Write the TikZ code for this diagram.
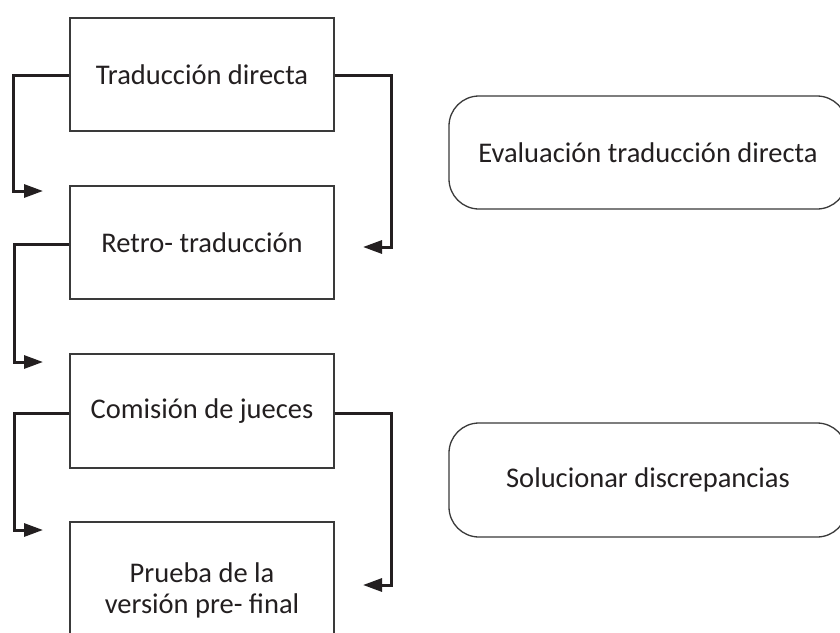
\documentclass[tikz,border=0pt]{standalone}
\usepackage{fontspec}
\setmainfont{Carlito}
\usetikzlibrary{arrows.meta}
\definecolor{ink}{HTML}{231F20}
\definecolor{boxline}{HTML}{3A3A3A}
\begin{document}
\begin{tikzpicture}[x=1pt,y=-1pt,
  every node/.style={font=\fontsize{28.5}{31}\selectfont, text=ink},
  stepbox/.style={draw=boxline, line width=1.3pt, minimum width=264pt, inner sep=0pt, align=center},
  roundbox/.style={draw=boxline, line width=1.3pt, rounded corners=30pt, minimum width=398pt, minimum height=113pt, inner sep=0pt, align=center},
  conn/.style={draw=ink, line width=3pt, -{Triangle[length=19pt,width=13pt]}}
]
\useasboundingbox (0,0) rectangle (840,632);
\clip (0,0) rectangle (840,632);
\fill[white] (0,0) rectangle (840,632);

\node[stepbox, minimum height=113pt] (b1) at (202,74.5) {Traducción directa};
\node[stepbox, minimum height=113pt] (b2) at (202,242.5) {Retro- traducción};
\node[stepbox, minimum height=114pt] (b3) at (202,411) {Comisión de jueces};
\node[stepbox, minimum height=136pt] (b4) at (202,590) {Prueba de la\\versión pre- final};

\node[roundbox] (e1) at (648,152.5) {Evaluación traducción directa};
\node[roundbox, minimum height=114pt] (e2) at (648,480) {Solucionar discrepancias};

\coordinate (l1) at (13,75);
\coordinate (t1) at (43,191);
\coordinate (l2) at (14,244);
\coordinate (t2) at (43,362);
\coordinate (l3) at (14,413);
\coordinate (t3) at (43,530);
\coordinate (r1) at (391,75);
\coordinate (u1) at (363,247);
\coordinate (r3) at (391,413);
\coordinate (u3) at (363,585);

\draw[conn] (b1.west |- l1) -- (l1) |- (t1);
\draw[conn] (b2.west |- l2) -- (l2) |- (t2);
\draw[conn] (b3.west |- l3) -- (l3) |- (t3);
\draw[conn] (b1.east |- r1) -- (r1) |- (u1);
\draw[conn] (b3.east |- r3) -- (r3) |- (u3);
\end{tikzpicture}
\end{document}
